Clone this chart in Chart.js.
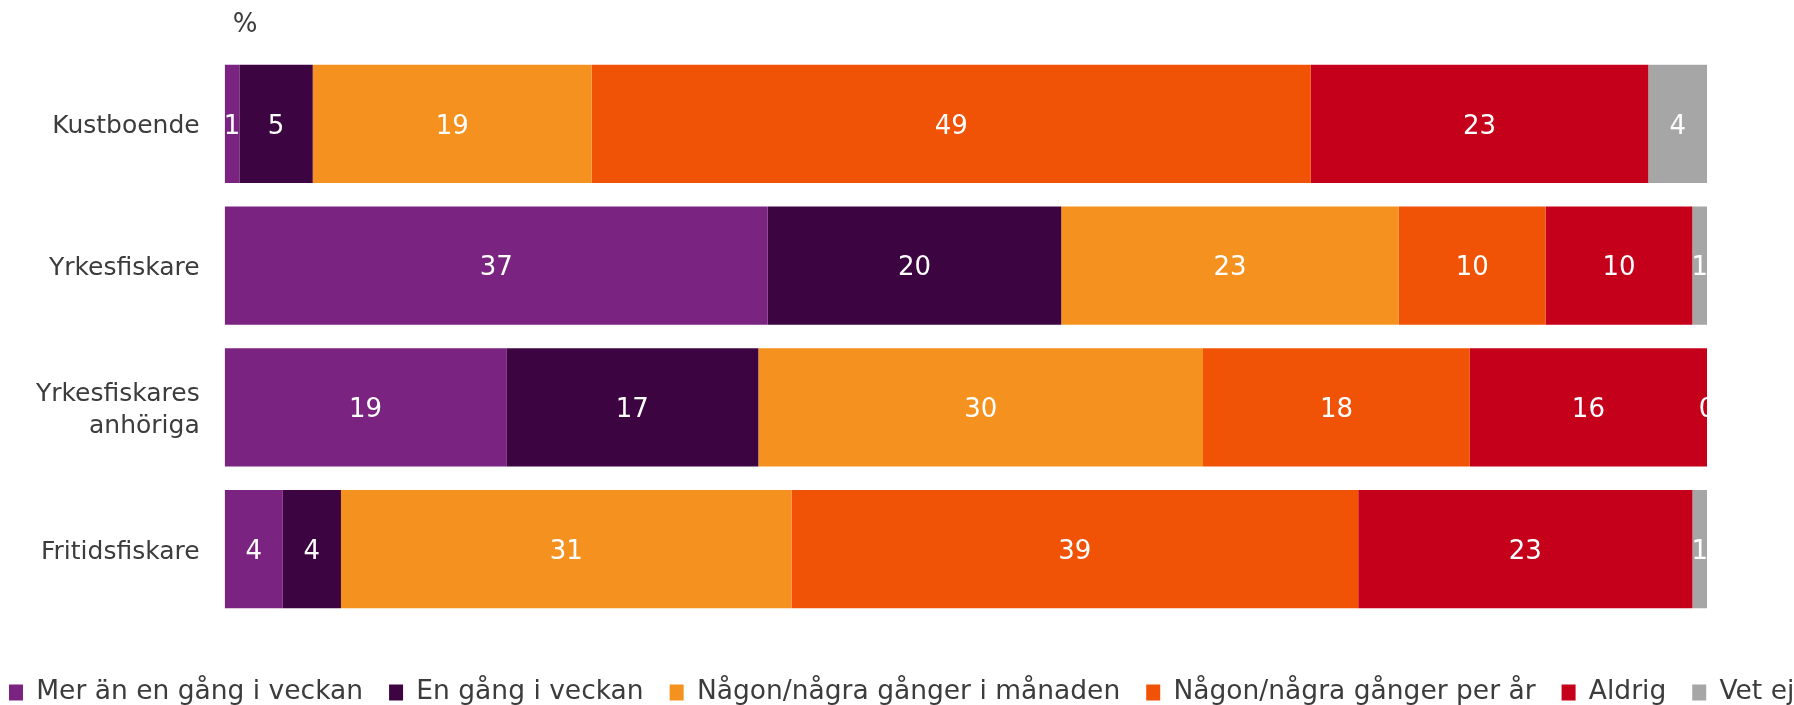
<!DOCTYPE html>
<html>
<head>
<meta charset="utf-8">
<script src="https://cdn.jsdelivr.net/npm/chart.js@4"></script>
<style>
  html, body { margin: 0; padding: 0; background: #ffffff; }
  #wrap { width: 1794px; height: 705px; position: relative; }
</style>
</head>
<body>
<div id="wrap"><canvas id="chart"></canvas></div>
<script>
// ---- Data ----
const categories = ['Kustboende', 'Yrkesfiskare', ['Yrkesfiskares', 'anhöriga'], 'Fritidsfiskare'];
const seriesNames = [
  'Mer än en gång i veckan',
  'En gång i veckan',
  'Någon/några gånger i månaden',
  'Någon/några gånger per år',
  'Aldrig',
  'Vet ej'
];
const merAnEnGangIVeckan   = [1, 37, 19, 4];
const enGangIVeckan        = [5, 20, 17, 4];
const nagonGangIManaden    = [19, 23, 30, 31];
const nagonGangPerAr       = [49, 10, 18, 39];
const aldrig               = [23, 10, 16, 23];
const vetEj                = [4, 1, 0, 1];
const unitLabel = '%';
const seriesColors = ['#7a2380', '#3c0441', '#f5911f', '#f05206', '#c4001a', '#a6a6a6'];

const rawSeries = [merAnEnGangIVeckan, enGangIVeckan, nagonGangIManaden, nagonGangPerAr, aldrig, vetEj];
// 100% stacked: each category is scaled to its total
const totals = categories.map((_, j) => rawSeries.reduce((s, arr) => s + arr[j], 0));
const shares = rawSeries.map(arr => arr.map((v, j) => v / totals[j] * 100));

const FONT = "'DejaVu Sans', Verdana, sans-serif";
const TEXT = '#3c3c3c';

const valueLabels = {
  id: 'valueLabels',
  afterDatasetsDraw(chart) {
    const {ctx, chartArea} = chart;
    ctx.save();
    ctx.beginPath();
    ctx.rect(chartArea.left, chartArea.top, chartArea.right - chartArea.left, chartArea.bottom - chartArea.top);
    ctx.clip();
    ctx.fillStyle = '#ffffff';
    ctx.font = '26px ' + FONT;
    ctx.textAlign = 'center';
    ctx.textBaseline = 'middle';
    chart.data.datasets.forEach((ds, i) => {
      const meta = chart.getDatasetMeta(i);
      if (meta.hidden) return;
      meta.data.forEach((bar, j) => {
        const p = bar.getProps(['x', 'base', 'y'], true);
        ctx.fillText(String(rawSeries[i][j]), (p.x + p.base) / 2, p.y + 3);
      });
    });
    ctx.restore();
  }
};

const unitText = {
  id: 'unitText',
  afterDraw(chart) {
    const {ctx, chartArea} = chart;
    ctx.save();
    ctx.fillStyle = TEXT;
    ctx.font = '26px ' + FONT;
    ctx.textAlign = 'left';
    ctx.textBaseline = 'alphabetic';
    ctx.fillText(unitLabel, chartArea.left + 8, 32);
    ctx.restore();
  }
};

new Chart(document.getElementById('chart'), {
  type: 'bar',
  data: {
    labels: categories,
    datasets: seriesNames.map((name, i) => ({
      label: name,
      data: shares[i],
      backgroundColor: seriesColors[i],
      borderWidth: 0,
      barPercentage: 0.833,
      categoryPercentage: 1.0
    }))
  },
  options: {
    indexAxis: 'y',
    responsive: true,
    maintainAspectRatio: false,
    animation: false,
    layout: { padding: { top: 53, bottom: -10.75, left: -17, right: -50 } },
    scales: {
      x: {
        stacked: true,
        min: 0,
        max: 100,
        display: true,
        grid: { display: false, drawTicks: false },
        border: { display: false },
        ticks: { display: false },
        afterFit(s) { s.height = 33.25; }
      },
      y: {
        stacked: true,
        grid: { display: false, drawTicks: false },
        border: { display: false },
        ticks: {
          padding: 25,
          labelOffset: 3,
          color: TEXT,
          font: { family: FONT, size: 25, lineHeight: 1.28 }
        },
        afterFit(s) { s.width = 241.7; }
      },
      y2: {
        type: 'linear',
        position: 'right',
        display: true,
        grid: { display: false, drawTicks: false },
        border: { display: false },
        ticks: { display: false },
        afterFit(s) { s.width = 137; }
      }
    },
    plugins: {
      legend: {
        position: 'bottom',
        align: 'start',
        labels: {
          boxWidth: 14,
          boxHeight: 16,
          padding: 26,
          color: TEXT,
          font: { family: FONT, size: 26.5 }
        }
      },
      tooltip: { enabled: false },
      title: { display: false }
    }
  },
  plugins: [valueLabels, unitText]
});
</script>
</body>
</html>
